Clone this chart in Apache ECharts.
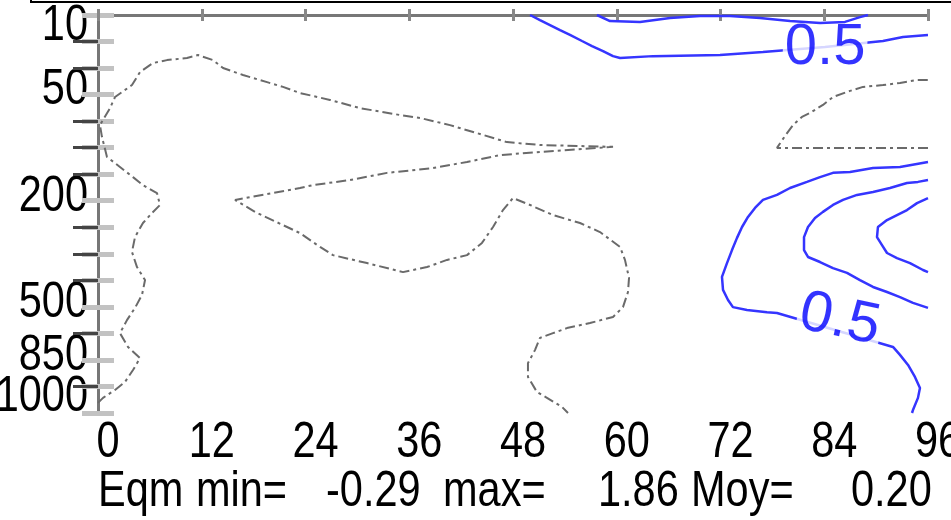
<!DOCTYPE html>
<html>
<head>
<meta charset="utf-8">
<script src="https://cdn.jsdelivr.net/npm/echarts@6/dist/echarts.min.js"></script>
<style>html,body{margin:0;padding:0;background:#fff}#c{width:951px;height:520px}</style>
</head>
<body>
<div id="c"></div>
<script>
// ---------- data ----------
const levels = [10, 20, 30, 50, 70, 100, 150, 200, 250, 300, 400, 500, 700, 850, 925, 1000];
const labeledLevels = [10, 50, 200, 500, 850, 1000];
const hourTicks = [0, 12, 24, 36, 48, 60, 72, 84, 96];
// contour lines: [hour, level index]
const zeroContourA = [
  [0,14.62],[0.58,14.43],[1.97,14.13],[3.12,13.83],[4.05,13.38],[4.86,12.93],[3.47,12.51],[2.54,11.99],
  [3.35,11.50],[4.28,11.04],[5.09,10.55],[5.44,9.99],[4.51,9.50],[3.93,8.93],[4.28,8.37],[5.20,7.84],
  [6.25,7.46],[7.17,7.16],[6.82,6.71],[5.20,6.41],[4.05,6.11],[2.54,5.73],[1.04,5.35],[0.46,4.60],
  [0.23,4.15],[1.39,3.51],[1.97,3.09],[3.93,2.64],[4.86,2.15],[6.36,1.81],[7.98,1.70],[10.29,1.62],
  [11.57,1.51],[13.30,1.70],[14.46,2.00],[16.77,2.26],[19.55,2.53],[21.40,2.71],[23.36,2.94],[26.83,3.20],
  [30.30,3.51],[34.93,3.77],[37.24,3.88],[40.71,4.15],[44.53,4.52],[47.30,4.79],[51.12,4.90],[59.57,4.97],
  [59.57,5.01],[51.12,5.16],[46.50,5.28],[42.68,5.54],[38.75,5.77],[33.43,5.95],[29.15,6.22],[24.87,6.41],
  [23.36,6.52],[15.85,6.97],[18.16,7.42],[23.36,8.22],[25.68,8.74],[27.18,9.05],[31.11,9.35],[35.28,9.69],
  [38.05,9.50],[40.37,9.23],[42.68,9.05],[44.41,8.59],[45.69,7.99],[46.84,7.35],[48.00,6.90],[49.97,7.16],
  [52.63,7.54],[55.75,7.84],[58.06,8.18],[60.38,8.74],[60.95,9.23],[61.42,9.91],[61.30,10.44],[60.72,11.01],
  [59.57,11.38],[56.90,11.61],[54.24,11.80],[52.63,11.99],[51.12,12.17],[50.54,12.63],[49.73,13.12],[49.73,13.64],
  [50.77,14.21],[51.93,14.43],[53.67,14.77],[54.36,15]
];
const zeroContourB = [
  [96,5.01],[78.53,5.01],[79.46,4.56],[80.38,4.15],[81.42,3.84],[82.35,3.69],[83.85,3.39],[85.01,3.09],
  [86.98,2.86],[88.48,2.71],[90.79,2.64],[92.76,2.56],[94.73,2.45],[96,2.45]
];
const posContourA = [
  [49.97,0],[51.12,0.19],[52.28,0.38],[53.44,0.57],[54.59,0.75],[55.98,0.98],[57.14,1.17],[58.41,1.36],
  [59.57,1.55],[60.38,1.62],[64.19,1.55],[71.94,1.51],[76.91,1.39],[84.08,1.21],[90.79,0.98],[93.11,0.83],[96,0.75]
];
const posContourB = [
  [57.71,0],[59.22,0.23],[62.69,0.26],[66.16,0.11],[69.63,0.04],[73.10,0.04],[76.57,0.11],[80.04,0.23],
  [83.51,0.30],[86.40,0.26],[88.13,0.08],[89.06,0]
];
const posContourC = [
  [96,5.54],[92.76,5.73],[89.64,5.77],[86.98,5.92],[85.01,5.95],[83.51,6.11],[82.00,6.29],[80.04,6.52],
  [78.53,6.78],[76.91,6.97],[75.99,7.27],[75.18,7.61],[74.49,7.99],[73.91,8.40],[73.33,8.86],[72.75,9.35],
  [72.17,9.87],[72.29,10.36],[72.87,10.74],[73.44,11.01],[75.06,11.12],[77.38,11.20],[78.53,11.23],[85.24,11.87],
  [91.95,12.51],[92.76,12.81],[93.69,13.19],[94.49,13.64],[95.07,14.06],[94.84,14.43],[94.26,14.89],[94.15,15]
];
const posContourD = [
  [96,6.22],[94.84,6.29],[93.57,6.33],[91.60,6.52],[89.64,6.67],[87.79,6.78],[86.17,6.97],[85.01,7.16],
  [83.85,7.42],[82.93,7.65],[82.12,7.99],[81.66,8.37],[81.66,8.86],[82.12,9.12],[83.51,9.31],[85.01,9.54],
  [86.63,9.72],[88.13,9.99],[89.64,10.25],[91.26,10.44],[92.76,10.63],[94.26,10.85],[96,11.04]
];
const posContourE = [
  [96,6.90],[94.73,7.09],[93.57,7.35],[92.41,7.54],[91.26,7.73],[90.21,7.99],[90.10,8.37],[90.68,8.67],
  [91.26,8.97],[92.41,9.16],[93.92,9.35],[95.42,9.61],[96,9.69]
];
const contourLabelValues = [0.5, 0.5];
const contourLabelCoords = [[84.1, 1.24], [85.8, 11.5]];
const statNames = ['Eqm', 'min=', 'max=', 'Moy='];
const statValues = [-0.29, 1.86, 0.20];

// ---------- chart ----------
const FONT = '"Liberation Sans", Arial, sans-serif';
const SX = 0.83; // horizontal condensing of the bitmap-like font
const chart = echarts.init(document.getElementById('c'), null, {renderer: 'canvas'});
const axisLineStyle = {color: '#777', width: 3};
const grayDash = {color: '#6a6a6a', width: 2, type: [10, 4, 3, 4]};
const blue = {color: '#3535ff', width: 2.5, type: 'solid'};
function lineSeries(data, style) {
  return {type: 'line', data: data, xAxisIndex: 0, yAxisIndex: 0, showSymbol: false, symbol: 'none',
    lineStyle: style, silent: true, z: 3, animation: false};
}

chart.setOption({
  animation: false,
  grid: {left: 98, right: 23, top: 15, bottom: 107, containLabel: false},
  xAxis: [
    {type: 'value', min: 0, max: 96, interval: 12, position: 'bottom',
      axisLine: {show: true, lineStyle: axisLineStyle},
      axisTick: {show: true, inside: true, length: 6, lineStyle: {color: '#888', width: 3}},
      axisLabel: {show: false}, splitLine: {show: false}},
    {type: 'value', min: 0, max: 96, interval: 12, position: 'top',
      axisLine: {show: true, lineStyle: axisLineStyle},
      axisTick: {show: true, inside: true, length: 6, lineStyle: {color: '#888', width: 3}},
      axisLabel: {show: false}, splitLine: {show: false}}
  ],
  yAxis: [
    {type: 'value', min: 0, max: levels.length - 1, interval: 1, inverse: true, position: 'left',
      axisLine: {show: true, lineStyle: axisLineStyle},
      axisTick: {show: true, inside: true, length: 16, lineStyle: {color: '#c2c2c2', width: 5}},
      axisLabel: {show: false}, splitLine: {show: false}},
    {type: 'value', min: 0, max: levels.length - 1, interval: 1, inverse: true, position: 'right',
      axisLine: {show: true, lineStyle: axisLineStyle},
      axisTick: {show: true, inside: true, length: 16, lineStyle: {color: '#c2c2c2', width: 5}},
      axisLabel: {show: false}, splitLine: {show: false}},
    {type: 'category', data: levels.map(String), boundaryGap: false, inverse: true, position: 'left',
      axisLine: {show: false},
      axisTick: {show: true, inside: false, length: 25, lineStyle: {color: '#444', width: 3},
        interval: (i, v) => labeledLevels.indexOf(+v) < 0},
      axisLabel: {show: false}, splitLine: {show: false}}
  ],
  series: [
    lineSeries(zeroContourA, grayDash),
    lineSeries(zeroContourB, grayDash),
    lineSeries(posContourA, blue),
    lineSeries(posContourB, blue),
    lineSeries(posContourC, blue),
    lineSeries(posContourD, blue),
    lineSeries(posContourE, blue),
    {type: 'scatter', xAxisIndex: 0, yAxisIndex: 0, silent: true, z: 5, symbolSize: 2,
      itemStyle: {color: 'rgba(255,255,255,0)'},
      data: contourLabelCoords.map((c, i) => ({value: [c[0], c[1], contourLabelValues[i]],
        label: {rotate: i === 1 ? -12 : 0}})),
      label: {show: true, position: 'inside', formatter: p => String(p.value[2]),
        fontFamily: FONT, fontSize: 58, lineHeight: 44, color: '#0000ff',
        backgroundColor: '#fff', padding: [0, 2]},
      emphasis: {disabled: true}}
  ]
});

// ---------- text (positions taken from the chart's own scales) ----------
const finder = {xAxisIndex: 0, yAxisIndex: 0};
const lastIdx = levels.length - 1;
const graphics = [
  {type: 'rect', shape: {x: 31, y: -20, width: 940, height: 22}, style: {fill: 'none', stroke: '#000', lineWidth: 2}, silent: true}
];
hourTicks.forEach(h => {
  const p = chart.convertToPixel(finder, [h, lastIdx]);
  graphics.push({type: 'text', x: p[0] + 10, y: p[1] + 30, scaleX: SX, silent: true,
    style: {text: String(h), fontFamily: FONT, fontSize: 50, fill: '#000', align: 'center', verticalAlign: 'middle'}});
});
labeledLevels.forEach(lv => {
  const idx = levels.indexOf(lv);
  const p = chart.convertToPixel(finder, [0, idx]);
  const dy = idx === 0 ? 11 : (idx === lastIdx ? -16 : -4);
  graphics.push({type: 'text', x: p[0] - 10, y: p[1] + dy, scaleX: SX, silent: true,
    style: {text: String(lv), fontFamily: FONT, fontSize: 50, fill: '#000', align: 'right', verticalAlign: 'middle'}});
});
const statTexts = [statNames[0], statNames[1], statValues[0].toFixed(2), statNames[2],
  statValues[1].toFixed(2), statNames[3], statValues[2].toFixed(2)];
const statX = [98, 196, 326, 443, 598, 691, 851];
statTexts.forEach((t, i) => {
  graphics.push({type: 'text', x: statX[i], y: 492, scaleX: SX, silent: true,
    style: {text: t, fontFamily: FONT, fontSize: 50, fill: '#000', align: 'left', verticalAlign: 'middle'}});
});
chart.setOption({graphic: graphics});
</script>
</body>
</html>
